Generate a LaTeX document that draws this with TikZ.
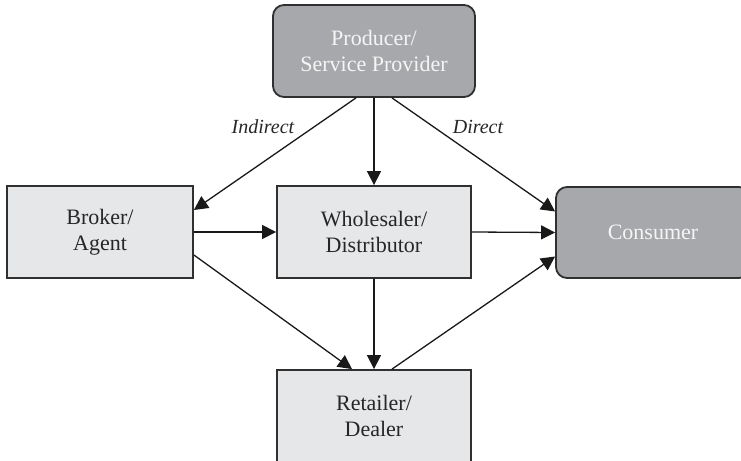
\documentclass[tikz,border=0pt]{standalone}
\usepackage{fontspec}
\setmainfont{Liberation Serif}
\usetikzlibrary{arrows.meta,positioning}
\definecolor{boxdark}{HTML}{A7A8AB}
\definecolor{boxlight}{HTML}{E6E7E8}
\definecolor{boxline}{HTML}{303030}
\tikzset{
  party/.style={draw=boxline,line width=0.9pt,fill=boxdark,rounded corners=5.5pt,text=white!96!black,align=center,minimum width=97pt,minimum height=46pt,inner sep=0pt},
  middle/.style={draw=boxline,line width=0.9pt,fill=boxlight,text=black!85,align=center,minimum width=97pt,minimum height=46pt,inner sep=0pt},
  flow/.style={-{Triangle[length=7pt,width=7pt]},line width=0.65pt,draw=black!90},
  chan/.style={font=\itshape,text=black!85}
}

\begin{document}
\begin{tikzpicture}[x=0.5pt,y=-0.5pt,font=\fontsize{11}{13.2}\selectfont]
\clip (0,0) rectangle (741,461);
\node[party,minimum width=101pt] (prod) at (374,51) {Producer/\\Service Provider};
\node[middle,minimum width=93pt] (broker) at (100,232) {Broker/\\Agent};
\node[middle] (whole) at (374,232) {Wholesaler/\\Distributor};
\node[party,minimum height=45.5pt] (cons) at (653,232.5) {Consumer};
\node[middle] (retail) at (374,416) {Retailer/\\Dealer};
% channels from the producer
\draw[flow] ([xshift=-9pt]prod.south) -- ([yshift=11pt]broker.east);
\draw[flow] (prod.south) -- (whole.north);
\draw[flow] ([xshift=9pt]prod.south) -- ([yshift=10.5pt]cons.west);
\node[chan] (indir) at (263,127) {Indirect};
\node[chan] (dir) at (478,127) {Direct};
% intermediaries
\draw[flow] (broker.east) -- (whole.west);
\draw[flow] (whole.east) -- (cons.west);
\draw[flow] (whole.south) -- (retail.north);
\draw[flow] ([yshift=-11.5pt]broker.east) -- ([xshift=-11pt]retail.north);
\draw[flow] ([xshift=9pt]retail.north) -- ([yshift=-12pt]cons.west);
\end{tikzpicture}
\end{document}
